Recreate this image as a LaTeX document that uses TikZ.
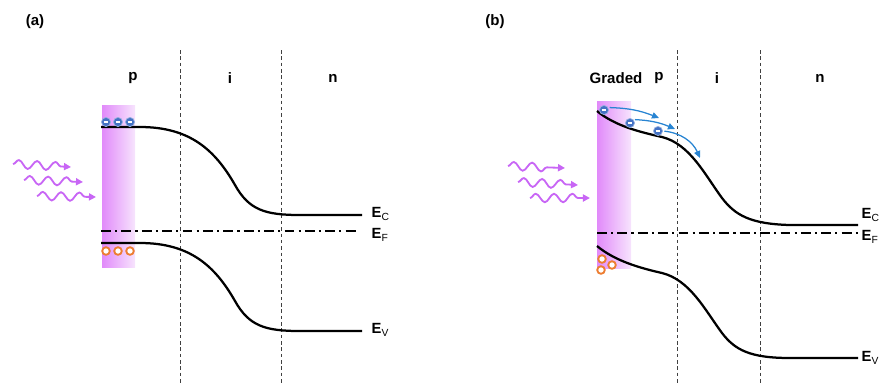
\documentclass[tikz,border=0pt]{standalone}
\usepackage{fontspec}
\setmainfont{Liberation Sans}
\usetikzlibrary{arrows.meta,decorations.pathmorphing,positioning}

\definecolor{absleft}{RGB}{225,138,250}
\definecolor{absright}{RGB}{247,228,253}
\definecolor{eblue}{RGB}{68,114,196}
\definecolor{horange}{RGB}{237,125,49}
\definecolor{photonc}{RGB}{200,102,245}
\definecolor{hopblue}{RGB}{40,132,210}

\begin{document}
\begin{tikzpicture}[x=0.025cm, y=-0.025cm,
    band/.style={line width=1.6pt},
    fermi/.style={line width=1.4pt, dash pattern=on 7pt off 3pt on 1.5pt off 3pt},
    region/.style={black!75, line width=0.6pt, dash pattern=on 2.5pt off 2pt},
    absorber/.style={left color=absleft, right color=absright, draw=none},
    zonelabel/.style={font=\fontsize{10.7}{12}\selectfont\bfseries, inner sep=1pt},
    levellabel/.style={anchor=west, font=\fontsize{10.5}{12}\selectfont, inner sep=1pt},
    electron/.style={circle, fill=eblue, draw=eblue!55, line width=0.5pt,
        minimum size=6.5pt, inner sep=0pt,
        path picture={\draw[white, line width=1pt]
            ([xshift=-1.7pt]path picture bounding box.center) --
            ([xshift=1.7pt]path picture bounding box.center);}},
    hole/.style={circle, draw=horange, fill=white, line width=1.3pt,
        minimum size=5.4pt, inner sep=0pt},
    photon/.style={photonc, line width=1.3pt, decorate,
        decoration={snake, segment length=13pt, amplitude=3pt, post length=7pt},
        -{Triangle[length=5pt, width=5pt]}},
    hop/.style={hopblue, line width=0.9pt, -{Triangle[length=5pt, width=4.5pt]},
        shorten <=1pt},
]

\useasboundingbox (0,0) rectangle (880,384);

% ---------------- panel (a) ----------------
\node[zonelabel] (taga) at (35,22) {(a)};
\node[zonelabel] (pa) at (133,78) {p};
\node[zonelabel] (ia) at (230,78) {i};
\node[zonelabel] (na) at (333,78) {n};

% junction boundaries
\foreach \x in {180,281}
    \draw[region] (\x,50) -- (\x,384);

% absorber layer
\fill[absorber] (102,105) rectangle (135,267);

% bands
\draw[band] (101,127) -- (140,127) .. controls (190,127) and (215,150) .. (235,185)
    .. controls (249,210) and (265,215) .. (300,215) -- (362,215);
\draw[fermi] (101,231) -- (358,231);
\draw[band] (101,243) -- (140,243) .. controls (190,243) and (215,266) .. (235,301)
    .. controls (249,326) and (265,331) .. (300,331) -- (362,331);

\node[levellabel] (eca) at (370,214) {\textbf{E}\textsubscript{C}};
\node[levellabel] (efa) at (370,235) {\textbf{E}\textsubscript{F}};
\node[levellabel] (eva) at (370,330) {\textbf{E}\textsubscript{V}};

% carriers
\foreach \x [count=\k] in {106,118,130} {
    \node[electron] (ea\k) at (\x,122) {};
    \node[hole] (ha\k) at (\x,251) {};
}

% incoming light
\draw[photon] (13,164) -- (71,167);
\draw[photon] (24,180) -- (83,182);
\draw[photon] (37,196) -- (96,197);

% ---------------- panel (b) ----------------
\node[zonelabel] (tagb) at (495,22) {(b)};
\node[zonelabel] (gradedb) at (616,78) {Graded};
\node[zonelabel] (pb) at (659,78) {p};
\node[zonelabel] (ib) at (717,78) {i};
\node[zonelabel] (nb) at (820,78) {n};

% junction boundaries
\foreach \x in {677,760}
    \draw[region] (\x,50) -- (\x,384);

% graded absorber layer
\fill[absorber] (597,101) rectangle (631,268);

% bands
\draw[band] (597,111) .. controls (615,126) and (640,132) .. (662,137)
    .. controls (690,144) and (705,175) .. (722,198)
    .. controls (735,215) and (750,224) .. (790,225) -- (858,225);
\draw[fermi] (597,233) -- (858,233);
\draw[band] (597,246) .. controls (615,261) and (640,268) .. (662,273)
    .. controls (690,280) and (705,310) .. (722,333)
    .. controls (735,350) and (750,358) .. (790,358) -- (858,358);

\node[levellabel] (ecb) at (860,215) {\textbf{E}\textsubscript{C}};
\node[levellabel] (efb) at (860,237) {\textbf{E}\textsubscript{F}};
\node[levellabel] (evb) at (860,358) {\textbf{E}\textsubscript{V}};

% carriers
\node[electron] (eb1) at (604,110) {};
\node[electron] (eb2) at (630,123) {};
\node[electron] (eb3) at (658,131) {};
\node[hole] (hb1) at (602,259) {};
\node[hole] (hb2) at (612,265) {};
\node[hole] (hb3) at (601,270) {};

% drift of electrons along the graded band
\coordinate (tip1) at (659,118);
\coordinate (tip2) at (675,129);
\coordinate (tip3) at (700,158);
\draw[hop] (eb1.30) to[bend left=10] (tip1);
\draw[hop] (eb2.north east) to[bend left=10] (tip2);
\draw[hop] (eb3.east) to[bend left=30] (tip3);

% incoming light
\draw[photon] (508,166) -- (565,168);
\draw[photon] (518,182) -- (578,185);
\draw[photon] (530,198) -- (590,198);

\end{tikzpicture}
\end{document}
